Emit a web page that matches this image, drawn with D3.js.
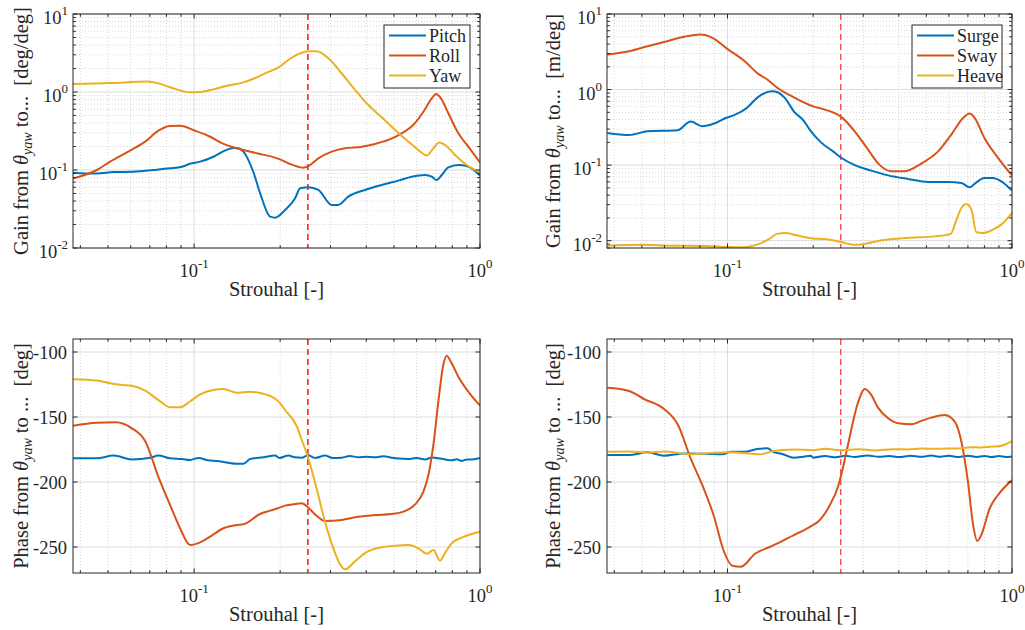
<!DOCTYPE html>
<html>
<head>
<meta charset="utf-8">
<script src="https://cdn.jsdelivr.net/npm/d3@7"></script>
<style>
  html, body { margin: 0; padding: 0; background: #fff; }
  svg { display: block; font-family: "Liberation Serif", "Times New Roman", serif; }
</style>
</head>
<body>
<svg id="chart" width="1025" height="630"></svg>
<script>
// ---------------- DATA ----------------
const stDomain = [0.0377, 1];
const stTicks = [0.1, 1];
const gainTicks = [0.01, 0.1, 1, 10];
const phaseTicks = [-100, -150, -200, -250];
const markerSt = 0.25;

const rotNames = ["Pitch", "Roll", "Yaw"];
const transNames = ["Surge", "Sway", "Heave"];
const colors = ["#0072BD", "#D95319", "#EDB120"];

// Gain, rotations [Strouhal, gain]
const pitchGain = [[0.0377,0.0925],[0.0457,0.09],[0.0522,0.094],[0.0613,0.095],[0.0721,0.1],[0.0824,0.105],[0.0906,0.11],[0.0968,0.12],[0.105,0.128],[0.1168,0.148],[0.128,0.177],[0.137,0.192],[0.143,0.19],[0.1488,0.172],[0.161,0.095],[0.170,0.051],[0.1845,0.0252],[0.192,0.0245],[0.208,0.0307],[0.2256,0.0434],[0.235,0.0582],[0.251,0.06],[0.272,0.0555],[0.303,0.0356],[0.319,0.0356],[0.346,0.0455],[0.396,0.0555],[0.453,0.0643],[0.518,0.073],[0.577,0.082],[0.642,0.0863],[0.678,0.082],[0.706,0.0745],[0.735,0.0863],[0.775,0.108],[0.84,0.116],[0.899,0.112],[1.0,0.085]];
const rollGain = [[0.0377,0.078],[0.0457,0.1],[0.0508,0.128],[0.0597,0.177],[0.0674,0.231],[0.075,0.319],[0.0824,0.367],[0.0893,0.37],[0.1008,0.319],[0.1138,0.267],[0.1266,0.216],[0.141,0.19],[0.1656,0.164],[0.1987,0.138],[0.2136,0.122],[0.241,0.107],[0.251,0.112],[0.272,0.141],[0.303,0.172],[0.337,0.19],[0.386,0.199],[0.4295,0.216],[0.478,0.243],[0.532,0.295],[0.584,0.378],[0.634,0.559],[0.678,0.83],[0.702,0.94],[0.73,0.83],[0.775,0.533],[0.84,0.295],[0.91,0.199],[1.0,0.125]];
const yawGain = [[0.0377,1.27],[0.0508,1.30],[0.0684,1.36],[0.075,1.29],[0.0824,1.15],[0.0968,0.99],[0.105,1.0],[0.1168,1.08],[0.130,1.2],[0.1488,1.33],[0.163,1.5],[0.1795,1.77],[0.1987,2.1],[0.2136,2.57],[0.235,3.13],[0.251,3.33],[0.268,3.33],[0.295,2.7],[0.328,1.74],[0.366,1.06],[0.407,0.68],[0.453,0.474],[0.505,0.326],[0.562,0.23],[0.609,0.18],[0.652,0.154],[0.687,0.19],[0.721,0.226],[0.754,0.21],[0.818,0.156],[0.899,0.116],[1.0,0.093]];

// Gain, translations
const surgeGain = [[0.0378,0.267],[0.0451,0.251],[0.0523,0.28],[0.0666,0.289],[0.0742,0.377],[0.0815,0.327],[0.0897,0.355],[0.0986,0.42],[0.1055,0.46],[0.1174,0.58],[0.127,0.777],[0.1437,0.95],[0.15,0.92],[0.16,0.753],[0.171,0.516],[0.186,0.38],[0.195,0.29],[0.214,0.197],[0.235,0.152],[0.251,0.125],[0.28,0.1],[0.32,0.0846],[0.367,0.0732],[0.431,0.0656],[0.507,0.0599],[0.596,0.0599],[0.664,0.058],[0.71,0.0508],[0.74,0.0569],[0.80,0.0676],[0.857,0.0676],[0.917,0.061],[1.0,0.046]];
const swayGain = [[0.0378,2.91],[0.0451,3.21],[0.0523,3.75],[0.0614,4.37],[0.0703,4.99],[0.0805,5.35],[0.0885,4.84],[0.0998,3.46],[0.116,2.30],[0.127,1.66],[0.138,1.36],[0.150,1.05],[0.171,0.79],[0.200,0.60],[0.22,0.543],[0.251,0.435],[0.28,0.28],[0.312,0.16],[0.343,0.1],[0.377,0.083],[0.42,0.083],[0.48,0.105],[0.55,0.152],[0.612,0.254],[0.673,0.42],[0.71,0.481],[0.74,0.42],[0.80,0.229],[0.893,0.125],[1.0,0.073]];
const heaveGain = [[0.0378,0.0086],[0.0509,0.00886],[0.0626,0.0086],[0.083,0.0085],[0.0998,0.00825],[0.1143,0.0082],[0.127,0.00886],[0.14,0.0105],[0.15,0.0124],[0.16,0.0126],[0.176,0.0117],[0.2,0.0107],[0.22,0.0105],[0.251,0.0096],[0.277,0.00886],[0.3,0.009],[0.348,0.0101],[0.431,0.0109],[0.535,0.0114],[0.609,0.0123],[0.638,0.019],[0.664,0.0271],[0.69,0.0306],[0.72,0.0258],[0.749,0.0129],[0.791,0.0126],[0.857,0.014],[0.917,0.0163],[1.0,0.0233]];

// Phase, rotations [Strouhal, deg]
const pitchPhase = [[0.0377,-181.8],[0.0457,-181.8],[0.0522,-179.7],[0.0606,-182.6],[0.0703,-181.3],[0.075,-179.7],[0.0824,-181.8],[0.0906,-182.3],[0.0968,-183],[0.1035,-181.5],[0.112,-183.3],[0.12,-183.8],[0.13,-185],[0.141,-186],[0.1488,-186],[0.157,-182.3],[0.175,-181],[0.192,-179.7],[0.1987,-181.5],[0.2136,-179.7],[0.225,-181],[0.238,-181.3],[0.25,-179.5],[0.265,-181.5],[0.287,-179.7],[0.305,-181.5],[0.328,-181.3],[0.35,-180],[0.375,-181],[0.40,-180.5],[0.4295,-181],[0.46,-180.2],[0.491,-181.3],[0.52,-182],[0.562,-182.3],[0.6,-181.5],[0.642,-182.6],[0.68,-181.2],[0.715,-181.8],[0.75,-182.5],[0.796,-183.3],[0.83,-182.5],[0.863,-183.8],[0.9,-182.6],[0.94,-182.6],[1.0,-181.5]];
const rollPhase = [[0.0377,-156.7],[0.0457,-154.4],[0.053,-154],[0.0606,-158.7],[0.0674,-168.5],[0.075,-196],[0.0824,-217.7],[0.0893,-235.6],[0.0968,-248.5],[0.1035,-247],[0.1138,-242],[0.1266,-235.6],[0.141,-233],[0.1488,-232.5],[0.170,-224.6],[0.1845,-222],[0.1987,-219.8],[0.208,-218.2],[0.2256,-217],[0.238,-216.4],[0.251,-219.8],[0.268,-226],[0.287,-230],[0.328,-229.2],[0.375,-226.7],[0.4295,-225.4],[0.491,-224.6],[0.54,-222.8],[0.593,-217.2],[0.634,-207.4],[0.66,-194.6],[0.687,-171.5],[0.715,-138.2],[0.744,-110],[0.764,-102.8],[0.796,-108.7],[0.84,-119],[0.91,-130.5],[1.0,-141.3]];
const yawPhase = [[0.0377,-121],[0.0457,-122],[0.053,-124.8],[0.0606,-126],[0.0674,-129.8],[0.075,-137],[0.0824,-142.5],[0.0893,-142.5],[0.0968,-138],[0.105,-132.6],[0.1168,-129.2],[0.1266,-128.5],[0.141,-131.3],[0.157,-130.5],[0.172,-131.8],[0.1845,-133.8],[0.1987,-138.7],[0.208,-144.6],[0.229,-157.5],[0.238,-167.7],[0.251,-181.8],[0.268,-204.8],[0.287,-230.5],[0.307,-251],[0.324,-263.3],[0.337,-267.2],[0.366,-260.8],[0.401,-254],[0.453,-250.2],[0.505,-249],[0.562,-248.5],[0.609,-251],[0.652,-255.2],[0.687,-252.3],[0.725,-260.5],[0.754,-254.8],[0.796,-247.2],[0.863,-242.8],[1.0,-238.2]];

// Phase, translations
const surgePhase = [[0.0378,-179.2],[0.0451,-179.2],[0.0523,-177.2],[0.0598,-179.8],[0.0703,-178],[0.083,-178.2],[0.096,-178.7],[0.103,-176.7],[0.116,-176.7],[0.127,-174.6],[0.138,-174.1],[0.146,-177.2],[0.155,-178.2],[0.171,-181.3],[0.185,-180.5],[0.196,-179.8],[0.2,-181.3],[0.22,-180],[0.24,-181],[0.26,-179.8],[0.28,-180.8],[0.31,-179.6],[0.34,-180.6],[0.37,-180],[0.4,-180.8],[0.44,-179.8],[0.48,-180.6],[0.52,-179.7],[0.56,-180.6],[0.6,-179.9],[0.65,-180.7],[0.7,-179.8],[0.75,-180.7],[0.8,-180],[0.85,-180.8],[0.9,-180],[0.95,-180.7],[1.0,-180.3]];
const swayPhase = [[0.0378,-127.5],[0.0451,-130],[0.0509,-136.2],[0.0598,-143.8],[0.067,-156.2],[0.0742,-181.8],[0.0815,-202.3],[0.0897,-226.7],[0.0967,-252.3],[0.104,-264.4],[0.1112,-265.2],[0.1256,-254.8],[0.14,-250.2],[0.1538,-246],[0.171,-240.8],[0.186,-237],[0.2,-233],[0.208,-230.5],[0.229,-217.7],[0.2445,-203.6],[0.251,-194.6],[0.265,-171.5],[0.287,-139.5],[0.304,-128.5],[0.32,-133],[0.338,-142.8],[0.367,-151],[0.398,-154.8],[0.443,-155.6],[0.48,-153],[0.52,-150.5],[0.58,-148.5],[0.629,-153.6],[0.664,-169],[0.7,-199.8],[0.73,-233],[0.755,-245.4],[0.78,-240.8],[0.835,-220.2],[0.893,-210],[1.0,-198.5]];
const heavePhase = [[0.0378,-176.7],[0.0451,-176.5],[0.0523,-177.5],[0.0598,-176.5],[0.0742,-178.7],[0.09,-177.5],[0.103,-177.2],[0.116,-177.8],[0.13,-178.7],[0.145,-176.2],[0.171,-175],[0.2,-175.5],[0.22,-174.5],[0.25,-175.5],[0.29,-174.8],[0.33,-175.7],[0.38,-174.8],[0.43,-175],[0.48,-174.3],[0.53,-174.5],[0.6,-174.3],[0.66,-174],[0.72,-173.2],[0.78,-173.5],[0.84,-172.8],[0.9,-172.5],[0.95,-171],[1.0,-168.5]];

// ---------------- LAYOUT ----------------
const panels = [
  { box:[73,480,14,248], kind:"gain", ydom:[0.01,10], series:[pitchGain,rollGain,yawGain], names:rotNames,
    ylab:["Gain from ", "\u03B8", "yaw", " to...  [deg/deg]"], labX:22, legend:true, legW:86, markerOpacity:1 },
  { box:[607,1012,14,248], kind:"gain", ydom:[0.008,10], series:[surgeGain,swayGain,heaveGain], names:transNames,
    ylab:["Gain from ", "\u03B8", "yaw", " to...  [m/deg]"], labX:554, legend:true, legW:90, markerOpacity:0.7 },
  { box:[73,480,339,573], kind:"phase", ydom:[-270,-90], series:[pitchPhase,rollPhase,yawPhase], names:rotNames,
    ylab:["Phase from ", "\u03B8", "yaw", " to ...  [deg]"], labX:22, legend:false, markerOpacity:1 },
  { box:[607,1012,339,573], kind:"phase", ydom:[-270,-90], series:[surgePhase,swayPhase,heavePhase], names:transNames,
    ylab:["Phase from ", "\u03B8", "yaw", " to ...  [deg]"], labX:554, legend:false, markerOpacity:0.7 }
];

const svg = d3.select("#chart");
const axisColor = "#262626";
const fs = 18.5;    // tick labels
const fsSup = 13;   // exponents
const fsLab = 20.5; // axis labels
const fsLeg = 18;   // legend

panels.forEach((p, pi) => {
  const [x0, x1, y0, y1] = p.box;
  const x = d3.scaleLog().domain(stDomain).range([x0, x1]);
  const y = (p.kind === "gain" ? d3.scaleLog() : d3.scaleLinear()).domain(p.ydom).range([y1, y0]);
  const g = svg.append("g");

  const clipId = "clip" + pi;
  svg.append("clipPath").attr("id", clipId).append("rect")
    .attr("x", x0).attr("y", y0).attr("width", x1 - x0).attr("height", y1 - y0);

  const xAll = x.ticks();
  const xMajor = xAll.filter(v => stTicks.some(t => Math.abs(t - v) < 1e-9));
  const xMinor = xAll.filter(v => !xMajor.includes(v));
  let yMajor, yMinor;
  if (p.kind === "gain") {
    const yAll = y.ticks();
    yMajor = gainTicks;
    yMinor = yAll.filter(v => !gainTicks.some(t => Math.abs(t - v) / t < 1e-6));
  } else {
    yMajor = phaseTicks;
    yMinor = [];
  }

  // minor grid
  const grid = g.append("g");
  grid.selectAll(".xmin").data(xMinor).join("line")
    .attr("x1", d => x(d)).attr("x2", d => x(d)).attr("y1", y0).attr("y2", y1)
    .attr("stroke", "#cdcdcd").attr("stroke-width", 0.8).attr("stroke-dasharray", "1,2");
  grid.selectAll(".ymin").data(yMinor).join("line")
    .attr("y1", d => y(d)).attr("y2", d => y(d)).attr("x1", x0).attr("x2", x1)
    .attr("stroke", "#cdcdcd").attr("stroke-width", 0.8).attr("stroke-dasharray", "1,2");
  // major grid
  grid.selectAll(".xmaj").data(xMajor).join("line")
    .attr("x1", d => x(d)).attr("x2", d => x(d)).attr("y1", y0).attr("y2", y1)
    .attr("stroke", "#dcdcdc").attr("stroke-width", 1);
  grid.selectAll(".ymaj").data(yMajor).join("line")
    .attr("y1", d => y(d)).attr("y2", d => y(d)).attr("x1", x0).attr("x2", x1)
    .attr("stroke", "#dcdcdc").attr("stroke-width", 1);

  // marker line
  g.append("line")
    .attr("x1", x(markerSt)).attr("x2", x(markerSt)).attr("y1", y0).attr("y2", y1)
    .attr("stroke", "#ff0000").attr("stroke-width", 1.4).attr("stroke-dasharray", "6,4")
    .attr("opacity", p.markerOpacity);

  // series
  const line = d3.line().x(d => x(d[0])).y(d => y(d[1])).curve(d3.curveMonotoneX);
  const lg = g.append("g").attr("clip-path", `url(#${clipId})`);
  p.series.forEach((s, i) => {
    lg.append("path").datum(s).attr("d", line)
      .attr("fill", "none").attr("stroke", colors[i]).attr("stroke-width", 2)
      .attr("stroke-linejoin", "round");
  });

  // box
  g.append("rect").attr("x", x0).attr("y", y0).attr("width", x1 - x0).attr("height", y1 - y0)
    .attr("fill", "none").attr("stroke", axisColor).attr("stroke-width", 1);

  // ticks (inward, all sides)
  const tk = g.append("g").attr("stroke", axisColor).attr("stroke-width", 1);
  const tickX = (vals, len) => vals.forEach(v => {
    const px = x(v);
    tk.append("line").attr("x1", px).attr("x2", px).attr("y1", y1).attr("y2", y1 - len);
    tk.append("line").attr("x1", px).attr("x2", px).attr("y1", y0).attr("y2", y0 + len);
  });
  const tickY = (vals, len) => vals.forEach(v => {
    const py = y(v);
    tk.append("line").attr("y1", py).attr("y2", py).attr("x1", x0).attr("x2", x0 + len);
    tk.append("line").attr("y1", py).attr("y2", py).attr("x1", x1).attr("x2", x1 - len);
  });
  tickX(xMajor, 4.5); tickX(xMinor, 2.8);
  tickY(yMajor, 4.5); tickY(yMinor, 2.8);

  // x tick labels
  xMajor.forEach(v => {
    const t = g.append("text").attr("x", x(v)).attr("y", y1 + 29)
      .attr("text-anchor", "middle").attr("font-size", fs).attr("fill", axisColor);
    t.append("tspan").text("10");
    t.append("tspan").attr("dy", -9).attr("font-size", fsSup).text(String(Math.round(Math.log10(v))));
  });

  // y tick labels
  yMajor.forEach(v => {
    if (p.kind === "gain") {
      const t = g.append("text").attr("x", x0 - 5).attr("y", y(v) + 10)
        .attr("text-anchor", "end").attr("font-size", fs).attr("fill", axisColor);
      t.append("tspan").text("10");
      t.append("tspan").attr("dy", -9).attr("font-size", fsSup).text(String(Math.round(Math.log10(v))));
    } else {
      g.append("text").attr("x", x0 - 6).attr("y", y(v) + 6.5)
        .attr("text-anchor", "end").attr("font-size", fs).attr("fill", axisColor).text(String(v));
    }
  });

  // x label
  g.append("text").attr("x", (x0 + x1) / 2).attr("y", y1 + 48)
    .attr("text-anchor", "middle").attr("font-size", fsLab).attr("fill", axisColor)
    .text("Strouhal [-]");

  // y label
  const cy = (y0 + y1) / 2;
  const yl = g.append("text").attr("transform", `translate(${p.labX + 6},${cy}) rotate(-90)`)
    .attr("text-anchor", "middle").attr("font-size", fsLab).attr("fill", axisColor)
    .style("white-space", "pre");
  yl.append("tspan").text(p.ylab[0]);
  yl.append("tspan").attr("font-style", "italic").text(p.ylab[1]);
  yl.append("tspan").attr("font-style", "italic").attr("font-size", 14).attr("dy", 4).text(p.ylab[2]);
  yl.append("tspan").attr("dy", -4).text(p.ylab[3]);

  // legend
  if (p.legend) {
    const ly0 = y0 + 11, lw = p.legW, lh = 63;
    const lgx = x1 - 10 - lw;
    const leg = g.append("g");
    leg.append("rect").attr("x", lgx).attr("y", ly0).attr("width", lw).attr("height", lh)
      .attr("fill", "#fff").attr("stroke", axisColor).attr("stroke-width", 1);
    p.names.forEach((n, i) => {
      const ly = ly0 + 10.5 + i * 20;
      leg.append("line").attr("x1", lgx + 5).attr("x2", lgx + 42).attr("y1", ly).attr("y2", ly)
        .attr("stroke", colors[i]).attr("stroke-width", 2);
      leg.append("text").attr("x", lgx + 45).attr("y", ly + 6).attr("font-size", fsLeg)
        .attr("fill", axisColor).text(n);
    });
  }
});
</script>
</body>
</html>
